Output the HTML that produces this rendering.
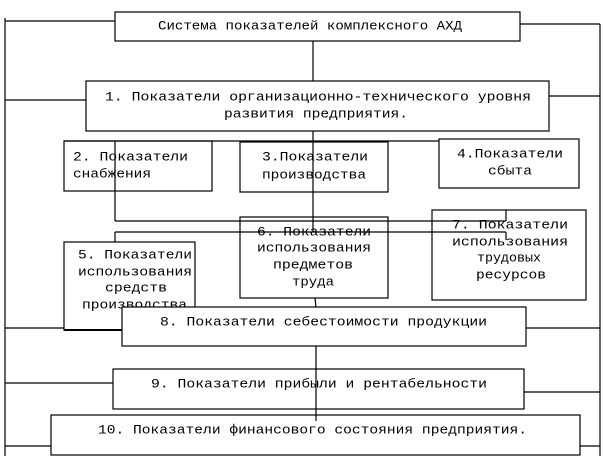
<!DOCTYPE html>
<html><head><meta charset="utf-8"><style>
html,body{margin:0;padding:0;background:#fff;}
svg{display:block;}
text{font-family:"Liberation Mono","Courier New","DejaVu Sans Mono",monospace;font-size:13px;fill:#000;dominant-baseline:middle;}
</style></head><body>
<svg width="603" height="456" viewBox="0 0 603 456" xmlns="http://www.w3.org/2000/svg">
<g stroke="#000" stroke-width="1.2" fill="none">
<line x1="5" y1="18" x2="5" y2="456"/>
<line x1="600" y1="24" x2="600" y2="456"/>
<line x1="5" y1="21" x2="115" y2="21"/>
<line x1="520" y1="24" x2="600" y2="24"/>
<line x1="313" y1="41" x2="313" y2="81"/>
<line x1="5" y1="100" x2="86" y2="100"/>
<line x1="549" y1="96" x2="600" y2="96"/>
<line x1="313" y1="131" x2="313" y2="232"/>
<line x1="64" y1="141" x2="439" y2="141"/>
<line x1="115" y1="141" x2="115" y2="221"/>
<line x1="115" y1="221" x2="506" y2="221"/>
<line x1="506" y1="210" x2="506" y2="221"/>
<line x1="115" y1="232" x2="506" y2="232"/>
<line x1="115" y1="232" x2="115" y2="242"/>
<line x1="506" y1="232" x2="506" y2="240"/>
<line x1="5" y1="328" x2="122" y2="328"/>
<line x1="526" y1="328" x2="600" y2="328"/>
<line x1="315" y1="298" x2="316" y2="307"/>
<line x1="5" y1="383" x2="113" y2="383"/>
<line x1="524" y1="392" x2="600" y2="392"/>
<line x1="5" y1="446" x2="51" y2="446"/>
<line x1="580" y1="446" x2="600" y2="446"/>
</g>
<g stroke="#000" stroke-width="1.2">
<rect x="115" y="12" width="405" height="29" fill="#fff"/>
<rect x="86" y="81" width="463" height="50" fill="#fff"/>
<rect x="64" y="141" width="148" height="50" fill="none"/>
<rect x="240" y="142" width="148" height="50" fill="none"/>
<rect x="439" y="139" width="140" height="49" fill="#fff"/>
<rect x="64" y="242" width="131" height="88" fill="#fff"/>
<rect x="240" y="217" width="148" height="81" fill="none"/>
<rect x="432" y="210" width="154" height="90" fill="none"/>
</g>
<g lengthAdjust="spacingAndGlyphs">
<text x="158" y="26" textLength="304" lengthAdjust="spacingAndGlyphs">Система показателей комплексного АХД</text>
<text x="105" y="97" textLength="426" lengthAdjust="spacingAndGlyphs">1. Показатели организационно-технического уровня</text>
<text x="224" y="114" textLength="184" lengthAdjust="spacingAndGlyphs">развития предприятия.</text>
<text x="73" y="157" textLength="115" lengthAdjust="spacingAndGlyphs">2. Показатели</text>
<text x="73" y="174" textLength="78" lengthAdjust="spacingAndGlyphs">снабжения</text>
<text x="262" y="157" textLength="106" lengthAdjust="spacingAndGlyphs">3.Показатели</text>
<text x="262" y="175" textLength="104" lengthAdjust="spacingAndGlyphs">производства</text>
<text x="457" y="154" textLength="106" lengthAdjust="spacingAndGlyphs">4.Показатели</text>
<text x="488" y="171" textLength="44" lengthAdjust="spacingAndGlyphs">сбыта</text>
<text x="78" y="255" textLength="114" lengthAdjust="spacingAndGlyphs">5. Показатели</text>
<text x="78" y="272" textLength="114" lengthAdjust="spacingAndGlyphs">использования</text>
<text x="105" y="288" textLength="62" lengthAdjust="spacingAndGlyphs">средств</text>
<text x="82" y="305" textLength="105" lengthAdjust="spacingAndGlyphs">производства</text>
<text x="257" y="232" textLength="114" lengthAdjust="spacingAndGlyphs">6. Показатели</text>
<text x="257" y="248" textLength="114" lengthAdjust="spacingAndGlyphs">использования</text>
<text x="273" y="265" textLength="80" lengthAdjust="spacingAndGlyphs">предметов</text>
<text x="292" y="282" textLength="42" lengthAdjust="spacingAndGlyphs">труда</text>
<text x="452" y="225" textLength="116" lengthAdjust="spacingAndGlyphs">7. Показатели</text>
<text x="452" y="242" textLength="116" lengthAdjust="spacingAndGlyphs">использования</text>
<text x="477" y="258" textLength="64" lengthAdjust="spacingAndGlyphs">трудовых</text>
<text x="476" y="275" textLength="70" lengthAdjust="spacingAndGlyphs">ресурсов</text>
</g>
<g stroke="#000" stroke-width="1.2" fill="#fff">
<rect x="122" y="307" width="404" height="39"/>
<rect x="113" y="369" width="411" height="40"/>
<rect x="51" y="415" width="529" height="40"/>
</g>
<line x1="64" y1="330" x2="122" y2="330" stroke="#000" stroke-width="2"/>
<line x1="316" y1="346" x2="316" y2="421" stroke="#000" stroke-width="1.2"/>
<text x="160" y="322" textLength="327" lengthAdjust="spacingAndGlyphs">8. Показатели себестоимости продукции</text>
<text x="151" y="384" textLength="336" lengthAdjust="spacingAndGlyphs">9. Показатели прибыли и рентабельности</text>
<text x="98" y="430" textLength="429" lengthAdjust="spacingAndGlyphs">10. Показатели финансового состояния предприятия.</text>
</svg>
</body></html>
